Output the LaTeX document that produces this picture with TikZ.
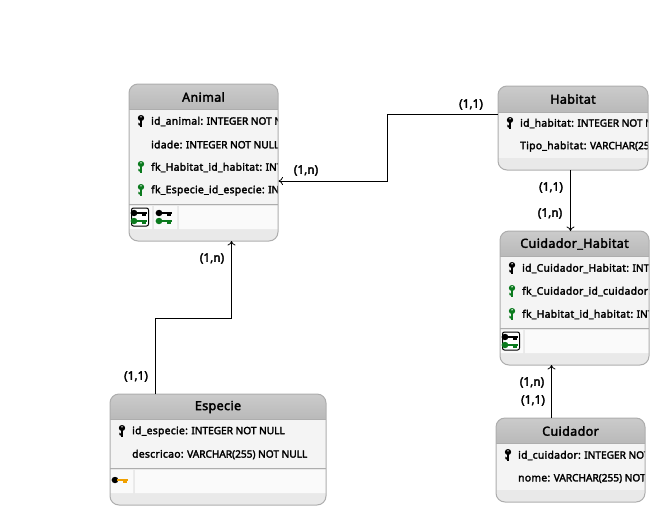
\documentclass[tikz,border=0pt]{standalone}
\usepackage{fontspec}
\setmainfont{Noto Sans}[BoldFont={Noto Sans},BoldFeatures={FakeBold=2.6}]
\usepackage{tikz}
\usetikzlibrary{arrows.meta}

\definecolor{boxline}{HTML}{ADADAD}
\definecolor{headtop}{HTML}{CBCBCB}
\definecolor{headbot}{HTML}{B9B9B9}
\definecolor{rowfill}{HTML}{F4F4F4}
\definecolor{stripfill}{HTML}{E9E9E9}
\definecolor{cellfill}{HTML}{FAFAFA}
\definecolor{keygreen}{HTML}{0B7A1E}
\definecolor{keyorange}{HTML}{F0A000}

\newcommand{\fname}[1]{{\fontsize{10.3}{11}\selectfont\addfontfeature{LetterSpace=3}#1}}

\tikzset{
	x=1pt, y=-1pt,
	>={To[length=4.5pt,width=8pt]},
	linkline/.style={->, line width=0.8pt},
	tablebox/.style={draw=boxline, line width=1pt, rounded corners=9pt, inner sep=0pt},
	titletxt/.style={font=\bfseries\fontsize{12.5}{13}\selectfont\addfontfeature{LetterSpace=3}},
	fieldtxt/.style={anchor=west, inner sep=0pt, font=\bfseries\fontsize{10.1}{11}\selectfont},
	cardtxt/.style={font=\bfseries\fontsize{11.8}{12}\selectfont},
	keybadge/.style={draw=black, line width=1pt, fill=white, rounded corners=2pt},
	pics/keyv/.style={code={
		\fill[#1] (0,-3) ellipse (3.2 and 3);
		\fill[#1] (-1.2,-2) rectangle (1.2,6);
		\fill[#1] (0,3.5) -- (-2.6,1.5) -- (-2.6,4) -- (0,5) -- cycle;
		\fill[white] (0,-4.2) circle (0.8);
	}},
	pics/keyh/.style 2 args={code={
		\fill[#1] (-5,0) ellipse (3.4 and 3.2);
		\fill[#2] (-3,-1.3) rectangle (8,1.3);
		\fill[#2] (3,0) rectangle (7,2.8);
	}}
}

\begin{document}
\begin{tikzpicture}
	\useasboundingbox (0,0) rectangle (653,509);

	% Animal
	\begin{scope}
		\clip[rounded corners=9pt] (129,84) rectangle (278,241);
		\fill[stripfill] (129,84) rectangle (278,241);
		\shade[top color=headtop, bottom color=headbot] (129,84) rectangle (278,109);
		\fill[rowfill] (129,110) rectangle (278,204);
		\fill[cellfill] (129,206) rectangle (152,229) (154,206) rectangle (177,229) (179,206) rectangle (278,229);
		\draw[boxline] (129,109.5) -- (278,109.5) (129,204.5) -- (278,204.5);
		\node[fieldtxt] (animalrow1) at (151,121.5) {\fname{id\_animal:} INTEGER NOT NULL};
		\node[fieldtxt] (animalrow2) at (151,144.5) {\fname{idade:} INTEGER NOT NULL};
		\node[fieldtxt] (animalrow3) at (151,167.5) {\fname{fk\_Habitat\_id\_habitat:} INTEGER};
		\node[fieldtxt] (animalrow4) at (151,190.5) {\fname{fk\_Especie\_id\_especie:} INTEGER};
	\end{scope}
	\node[tablebox, minimum width=149, minimum height=157] (animal) at (203.5,162.5) {};
	\node[titletxt] (animaltitle) at (203.5,97) {Animal};
	\pic at (141,121) {keyv=black};
	\pic at (141,167) {keyv=keygreen};
	\pic at (141,190) {keyv=keygreen};
	\node[keybadge, minimum width=17, minimum height=18] (animalbadge) at (140,217) {};
	\pic at (139,213) {keyh={black}{black}};
	\pic at (139,221) {keyh={keygreen}{keygreen}};
	\pic at (164,213) {keyh={black}{black}};
	\pic at (164,221) {keyh={keygreen}{keygreen}};

	% Habitat
	\begin{scope}
		\clip[rounded corners=9pt] (498,86) rectangle (648,170);
		\fill[stripfill] (498,86) rectangle (648,170);
		\shade[top color=headtop, bottom color=headbot] (498,86) rectangle (648,112);
		\fill[rowfill] (498,113) rectangle (648,158);
		\draw[boxline] (498,112.5) -- (648,112.5);
		\node[fieldtxt] (habitatrow1) at (520,123.5) {\fname{id\_habitat:} INTEGER NOT NULL};
		\node[fieldtxt] (habitatrow2) at (520,146.5) {\fname{Tipo\_habitat:} VARCHAR(255)};
	\end{scope}
	\node[tablebox, minimum width=150, minimum height=84] (habitat) at (573,128) {};
	\node[titletxt] (habitattitle) at (573,99) {Habitat};
	\pic at (510,123) {keyv=black};

	% Cuidador_Habitat
	\begin{scope}
		\clip[rounded corners=9pt] (500,231) rectangle (649,365);
		\fill[stripfill] (500,231) rectangle (649,365);
		\shade[top color=headtop, bottom color=headbot] (500,231) rectangle (649,256);
		\fill[rowfill] (500,257) rectangle (649,328);
		\fill[cellfill] (500,330) rectangle (523,353) (525,330) rectangle (649,353);
		\draw[boxline] (500,256.5) -- (649,256.5) (500,328.5) -- (649,328.5);
		\node[fieldtxt] (ligrow1) at (522,268.5) {\fname{id\_Cuidador\_Habitat:} INTEGER};
		\node[fieldtxt] (ligrow2) at (522,291.5) {\fname{fk\_Cuidador\_id\_cuidador:} INTEGER};
		\node[fieldtxt] (ligrow3) at (522,314.5) {\fname{fk\_Habitat\_id\_habitat:} INTEGER};
	\end{scope}
	\node[tablebox, minimum width=149, minimum height=134] (lig) at (574.5,298) {};
	\node[titletxt] (ligtitle) at (574.5,244) {Cuidador\_Habitat};
	\pic at (512,268) {keyv=black};
	\pic at (512,291) {keyv=keygreen};
	\pic at (512,314) {keyv=keygreen};
	\node[keybadge, minimum width=17, minimum height=18] (ligbadge) at (511,341) {};
	\pic at (510,337) {keyh={black}{black}};
	\pic at (510,345) {keyh={keygreen}{keygreen}};

	% Especie
	\begin{scope}
		\clip[rounded corners=9pt] (110,394) rectangle (326,505);
		\fill[stripfill] (110,394) rectangle (326,505);
		\shade[top color=headtop, bottom color=headbot] (110,394) rectangle (326,419);
		\fill[rowfill] (110,420) rectangle (326,468);
		\fill[cellfill] (110,470) rectangle (133,493) (135,470) rectangle (326,493);
		\draw[boxline] (110,419.5) -- (326,419.5) (110,468.5) -- (326,468.5);
		\node[fieldtxt] (especierow1) at (132,431.5) {\fname{id\_especie:} INTEGER NOT NULL};
		\node[fieldtxt] (especierow2) at (132,454.5) {\fname{descricao:} VARCHAR(255) NOT NULL};
	\end{scope}
	\node[tablebox, minimum width=216, minimum height=111] (especie) at (218,449.5) {};
	\node[titletxt] (especietitle) at (218,407) {Especie};
	\pic at (122,431) {keyv=black};
	\pic at (120,480) {keyh={black}{keyorange}};

	% Cuidador
	\begin{scope}
		\clip[rounded corners=9pt] (496,418) rectangle (645,502);
		\fill[stripfill] (496,418) rectangle (645,502);
		\shade[top color=headtop, bottom color=headbot] (496,418) rectangle (645,443);
		\fill[rowfill] (496,444) rectangle (645,490);
		\draw[boxline] (496,443.5) -- (645,443.5);
		\node[fieldtxt] (cuidadorrow1) at (518,455.5) {\fname{id\_cuidador:} INTEGER NOT NULL};
		\node[fieldtxt] (cuidadorrow2) at (518,478.5) {\fname{nome:} VARCHAR(255) NOT NULL};
	\end{scope}
	\node[tablebox, minimum width=149, minimum height=84] (cuidador) at (570.5,460) {};
	\node[titletxt] (cuidadortitle) at (570.5,431) {Cuidador};
	\pic at (508,455) {keyv=black};

	% ligacoes
	\coordinate (habitatout) at (habitat.west |- 0,114);
	\coordinate (animalin) at (animal.east |- 0,181);
	\coordinate (bendA) at (387.5,114);
	\coordinate (bendB) at (387.5,181);
	\draw[linkline] (habitatout) -- (bendA) -- (bendB) -- (animalin);
	\coordinate (especieout) at (155.5,394);
	\coordinate (animalinb) at (231.5,241);
	\draw[linkline] (especieout) -- (155.5,318) -- (231.5,318) -- (animalinb);
	\coordinate (habitatdown) at (570.5,170);
	\coordinate (ligin) at (570.5,231);
	\draw[linkline] (habitatdown) -- (ligin);
	\coordinate (cuidadorup) at (551.5,418);
	\coordinate (liginb) at (551.5,365);
	\draw[linkline] (cuidadorup) -- (liginb);

	\node[cardtxt] (card1) at (471,104.5) {(1,1)};
	\node[cardtxt] (card2) at (306,170.5) {(1,n)};
	\node[cardtxt] (card3) at (551,187.5) {(1,1)};
	\node[cardtxt] (card4) at (550,213.5) {(1,n)};
	\node[cardtxt] (card5) at (212,258.5) {(1,n)};
	\node[cardtxt] (card6) at (136,376.5) {(1,1)};
	\node[cardtxt] (card7) at (532,382.5) {(1,n)};
	\node[cardtxt] (card8) at (533,400.5) {(1,1)};
\end{tikzpicture}
\end{document}
